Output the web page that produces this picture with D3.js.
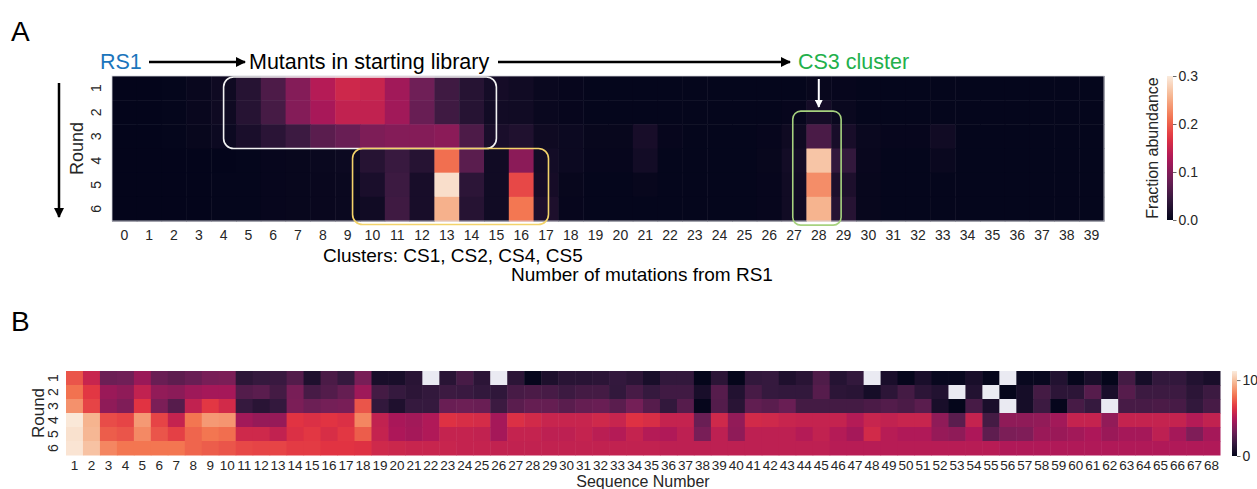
<!DOCTYPE html>
<html>
<head>
<meta charset="utf-8">
<script src="https://cdn.jsdelivr.net/npm/d3@7"></script>
<style>
  body { margin: 0; background: #fff; }
  text { font-family: "Liberation Sans", Arial, sans-serif; }
</style>
</head>
<body>
<div id="chart"></div>
<script>
// ---- panel A data: fraction abundance per round, columns = number of mutations 0..39
var mutationCounts = d3.range(0, 40);
var rounds = [1, 2, 3, 4, 5, 6];
var abundanceR1 = [0.001, 0.001, 0.002, 0.005, 0.01, 0.03, 0.06, 0.1, 0.135, 0.155, 0.15, 0.12, 0.085, 0.05, 0.03, 0.015, 0.012, 0.006, 0.003, 0.002,
  0.002, 0.002, 0.002, 0.002, 0.002, 0.002, 0.002, 0.002, 0.004, 0.003, 0.002, 0.002, 0.002, 0.002, 0.002, 0.002, 0.002, 0.002, 0.002, 0.002];
var abundanceR2 = [0.001, 0.001, 0.002, 0.005, 0.01, 0.03, 0.055, 0.1, 0.125, 0.145, 0.145, 0.12, 0.08, 0.05, 0.03, 0.013, 0.012, 0.006, 0.003, 0.002,
  0.002, 0.002, 0.002, 0.002, 0.002, 0.002, 0.002, 0.003, 0.015, 0.006, 0.002, 0.002, 0.002, 0.002, 0.002, 0.002, 0.002, 0.002, 0.002, 0.002];
var abundanceR3 = [0.001, 0.001, 0.002, 0.004, 0.008, 0.02, 0.033, 0.048, 0.07, 0.08, 0.095, 0.1, 0.1, 0.105, 0.06, 0.02, 0.025, 0.01, 0.008, 0.004,
  0.004, 0.018, 0.003, 0.002, 0.002, 0.002, 0.003, 0.01, 0.058, 0.018, 0.006, 0.003, 0.003, 0.012, 0.002, 0.002, 0.002, 0.002, 0.002, 0.002];
var abundanceR4 = [0.001, 0.001, 0.001, 0.001, 0.001, 0.002, 0.003, 0.004, 0.006, 0.008, 0.03, 0.045, 0.03, 0.21, 0.07, 0.012, 0.105, 0.014, 0.008, 0.003,
  0.003, 0.014, 0.002, 0.002, 0.002, 0.002, 0.004, 0.014, 0.27, 0.04, 0.005, 0.002, 0.002, 0.006, 0.002, 0.002, 0.002, 0.002, 0.002, 0.002];
var abundanceR5 = [0.001, 0.001, 0.001, 0.001, 0.002, 0.002, 0.003, 0.004, 0.005, 0.006, 0.02, 0.048, 0.018, 0.29, 0.035, 0.012, 0.185, 0.016, 0.004, 0.002,
  0.002, 0.004, 0.002, 0.002, 0.002, 0.002, 0.003, 0.012, 0.23, 0.022, 0.004, 0.002, 0.002, 0.002, 0.002, 0.002, 0.002, 0.002, 0.002, 0.002];
var abundanceR6 = [0.001, 0.001, 0.001, 0.001, 0.002, 0.002, 0.003, 0.004, 0.005, 0.006, 0.012, 0.05, 0.018, 0.255, 0.03, 0.012, 0.215, 0.022, 0.003, 0.002,
  0.002, 0.002, 0.002, 0.002, 0.002, 0.002, 0.003, 0.012, 0.257, 0.03, 0.004, 0.002, 0.002, 0.002, 0.002, 0.002, 0.002, 0.002, 0.002, 0.002];
var abundanceTicks = [0.0, 0.1, 0.2, 0.3];

// ---- panel B data: per-sequence values, null = missing
var sequenceNumbers = d3.range(1, 69);
var seqR1 = [7.2, 5.6, 3.1, 3.2, 4.3, 3.0, 2.7, 3.0, 3.4, 3.5, 1.35, 1.6, 1.7, 2.4, 0.9, 2.2, 1.6, 3.4,
  0.7, 0.7, 1.2, null, 1.2, 2.1, 1.3, null, 1.3, 0.1, 0.85, 1.2, 1.2, 1.3, 1.55, 1.3, 0.7,
  1.5, 1.5, 0.05, 1.3, 0.05, 1.5, 1.6, 0.9, 1.2, 2.3, 1.1, 1.5, null, 0.75, 0.1, 0.75, 0.2,
  0.2, 0.7, 0.1, null, 0.2, 0.2, 1.0, 0.1, 0.7, 0.05, 2.0, 0.6, 1.5, 1.5, 1.0, 0.7];
var seqR2 = [7.9, 6.5, 4.3, 4.0, 5.4, 4.1, 3.9, 4.4, 4.6, 4.6, 2.4, 2.6, 2.0, 3.4, 2.1, 2.4, 2.9, 4.4,
  2.0, 1.6, 1.3, 1.5, 1.8, 1.7, 1.5, 1.4, 2.1, 2.2, 2.1, 1.8, 2.0, 2.0, 1.5, 2.1, 1.6,
  1.9, 1.9, 0.7, 2.5, 1.0, 2.1, 1.6, 1.5, 1.5, 2.5, 1.3, 1.2, 0.6, 1.3, 2.0, 1.3, 1.0,
  null, 1.0, null, 0.05, 0.6, 2.0, 1.3, 1.3, 2.5, 0.75, 2.5, 1.8, 1.8, 1.8, 1.3, 1.8];
var seqR3 = [8.7, 6.8, 4.0, 3.6, 6.4, 3.5, 2.5, 5.4, 6.5, 5.9, 1.6, 1.2, 1.55, 3.5, 3.1, 3.3, 3.4, 7.2,
  1.5, 0.9, 1.6, 1.6, 3.0, 3.1, 3.0, 1.8, 2.6, 2.9, 2.9, 2.6, 2.9, 3.0, 2.6, 3.3, 2.5,
  1.5, 2.5, 0.1, 2.4, 1.2, 2.8, 2.6, 3.0, 2.0, 2.0, 2.0, 2.0, 2.2, 2.4, 2.2, 2.6, 0.7,
  0.05, 2.1, 0.75, null, 0.6, 1.8, 0.1, 2.1, 1.6, null, 2.1, 2.1, 2.2, 2.1, 1.5, 2.1];
var seqR4 = [11.1, 9.6, 7.0, 6.8, 8.9, 6.8, 5.5, 8.0, 8.9, 8.8, 4.5, 4.2, 4.2, 6.4, 6.2, 6.4, 6.2, 8.4,
  5.4, 4.7, 4.5, 4.9, 6.3, 6.1, 6.0, 4.6, 6.2, 5.9, 5.6, 5.6, 5.6, 5.8, 5.6, 6.3, 6.1,
  5.5, 5.5, 3.0, 5.8, 4.1, 5.9, 5.8, 5.6, 5.5, 5.5, 5.5, 5.0, 5.6, 5.4, 5.6, 5.6, 4.0,
  2.6, 5.5, 2.0, 4.0, 4.0, 4.1, 4.5, 5.5, 5.5, 4.1, 5.5, 5.5, 5.5, 5.5, 5.0, 5.4];
var seqR5 = [10.9, 9.7, 7.4, 7.2, 8.5, 7.2, 6.7, 7.6, 8.0, 7.8, 5.8, 5.8, 5.4, 6.2, 6.5, 6.1, 6.5, 7.4,
  5.5, 4.8, 4.6, 4.9, 5.5, 5.5, 5.4, 4.6, 5.5, 5.5, 5.3, 5.3, 5.5, 5.2, 5.0, 5.5, 5.0,
  4.9, 5.3, 3.4, 5.3, 4.0, 5.3, 5.3, 5.3, 5.0, 5.4, 5.0, 4.6, 5.9, 5.1, 4.9, 4.9, 4.2,
  4.0, 4.8, 2.7, 3.5, 3.6, 4.3, 4.3, 4.5, 4.8, 4.3, 4.6, 4.6, 5.3, 4.6, 3.6, 4.6];
var seqR6 = [11.0, 10.0, 8.4, 8.0, 8.0, 8.0, 8.0, 7.6, 7.4, 7.2, 6.9, 6.8, 6.8, 6.6, 6.6, 6.4, 6.4, 6.3,
  5.8, 5.7, 5.6, 5.6, 5.6, 5.5, 5.5, 5.4, 5.4, 5.4, 5.4, 5.4, 5.4, 5.4, 5.4, 5.4, 5.4,
  5.3, 5.3, 5.3, 5.3, 5.3, 5.3, 5.3, 5.3, 5.3, 5.3, 5.1, 5.1, 5.1, 5.1, 5.1, 5.1, 5.1,
  5.1, 5.1, 5.1, 4.9, 4.9, 4.9, 4.9, 4.9, 4.9, 4.9, 4.9, 4.9, 4.9, 4.9, 4.9, 4.9];
var sequenceTicks = [0, 10];
var sequenceMax = 11.2;

// seaborn "rocket" colormap anchors
var rocketStops = ["#03051a", "#35193e", "#701f57", "#ad1759", "#e13342", "#f37651", "#f6b48f", "#faebdd"];

var width = 1257, height = 489;
var nanColor = "#eaeaf2";
var textColor = "#262626";

function rocket(t) {
    var scale = d3.scaleLinear()
        .domain(d3.range(rocketStops.length).map(function (i) { return i / (rocketStops.length - 1); }))
        .range(rocketStops)
        .interpolate(d3.interpolateRgb)
        .clamp(true);
    return scale(t);
}

function toCells(rowArrays, columns) {
    var cells = [];
    rowArrays.forEach(function (row, r) {
        row.forEach(function (v, c) {
            cells.push({ round: rounds[r], col: columns[c], value: v });
        });
    });
    return cells;
}

function addArrowMarker(defs, id, color) {
    defs.append("marker")
        .attr("id", id)
        .attr("viewBox", "0 0 10 10")
        .attr("refX", 9).attr("refY", 5)
        .attr("markerWidth", 4).attr("markerHeight", 4)
        .attr("markerUnits", "strokeWidth")
        .attr("orient", "auto")
        .append("path")
        .attr("d", "M0,0 L10,5 L0,10 z")
        .attr("fill", color);
}

function drawHeatmap(svg, cfg) {
    var x = d3.scaleBand().domain(cfg.columns).range([cfg.x0, cfg.x1]);
    var y = d3.scaleBand().domain(rounds).range([cfg.y0, cfg.y1]);
    var color = d3.scaleLinear().domain([0, cfg.vmax]).range([0, 1]).clamp(true);

    svg.append("g").selectAll("rect")
        .data(cfg.cells)
        .enter().append("rect")
        .attr("x", function (d) { return x(d.col); })
        .attr("y", function (d) { return y(d.round); })
        .attr("width", x.bandwidth() + 0.5)
        .attr("height", y.bandwidth() + 0.5)
        .attr("fill", function (d) {
            return d.value == null ? nanColor : rocket(color(d.value));
        });

    // x tick labels
    var xAxis = svg.append("g")
        .attr("transform", "translate(0," + cfg.y1 + ")")
        .call(d3.axisBottom(x).tickSize(0).tickPadding(cfg.xPad));
    xAxis.select(".domain").remove();
    xAxis.selectAll("text")
        .attr("fill", textColor)
        .style("font-size", cfg.xFont + "px")
        .style("font-family", "Liberation Sans, Arial, sans-serif");

    // rotated round labels
    svg.append("g").selectAll("text")
        .data(rounds)
        .enter().append("text")
        .attr("transform", function (d) {
            return "translate(" + cfg.yLabelX + "," + (y(d) + y.bandwidth() / 2) + ") rotate(-90)";
        })
        .attr("text-anchor", "middle")
        .attr("dominant-baseline", "central")
        .attr("fill", textColor)
        .style("font-size", cfg.yFont + "px")
        .text(function (d) { return d; });

    svg.append("text")
        .attr("transform", "translate(" + cfg.roundTitleX + "," + ((cfg.y0 + cfg.y1) / 2) + ") rotate(-90)")
        .attr("text-anchor", "middle")
        .attr("dominant-baseline", "central")
        .attr("fill", textColor)
        .style("font-size", cfg.titleFont + "px")
        .text("Round");

    return { x: x, y: y };
}

function drawColorbar(svg, cfg) {
    var defs = svg.select("defs");
    var gradId = cfg.id;
    var grad = defs.append("linearGradient")
        .attr("id", gradId)
        .attr("x1", 0).attr("y1", 1).attr("x2", 0).attr("y2", 0);
    d3.range(0, 1.0001, 0.05).forEach(function (t) {
        grad.append("stop").attr("offset", t).attr("stop-color", rocket(t));
    });
    svg.append("rect")
        .attr("x", cfg.x).attr("y", cfg.y0)
        .attr("width", cfg.w).attr("height", cfg.y1 - cfg.y0)
        .attr("fill", "url(#" + gradId + ")");

    var scale = d3.scaleLinear().domain([0, cfg.vmax]).range([cfg.y1, cfg.y0]);
    var axis = svg.append("g")
        .attr("transform", "translate(" + (cfg.x + cfg.w) + ",0)")
        .call(d3.axisRight(scale).tickValues(cfg.ticks).tickFormat(cfg.format).tickSize(3.5).tickPadding(2));
    axis.select(".domain").remove();
    axis.selectAll("line").attr("stroke", "#444").attr("stroke-width", 0.8);
    axis.selectAll("text")
        .attr("fill", textColor)
        .style("font-size", cfg.font + "px")
        .style("font-family", "Liberation Sans, Arial, sans-serif");
}

var svg = d3.select("#chart").append("svg")
    .attr("width", width)
    .attr("height", height);
var defs = svg.append("defs");
addArrowMarker(defs, "arrowBlack", "#000");
addArrowMarker(defs, "arrowWhite", "#fff");

// ---------------- Panel A ----------------
var topA = drawHeatmap(svg, {
    cells: toCells([abundanceR1, abundanceR2, abundanceR3, abundanceR4, abundanceR5, abundanceR6], mutationCounts),
    columns: mutationCounts,
    x0: 112, x1: 1104, y0: 76, y1: 221,
    vmax: 0.3,
    xPad: 9, xFont: 14,
    yLabelX: 96, yFont: 14,
    roundTitleX: 77, titleFont: 18
});

svg.append("rect")
    .attr("x", 112).attr("y", 76).attr("width", 992).attr("height", 145)
    .attr("fill", "none").attr("stroke", "#d4d4dc").attr("stroke-width", 0.8);

drawColorbar(svg, {
    id: "gradA", x: 1167, w: 6, y0: 76, y1: 220,
    vmax: 0.3, ticks: abundanceTicks, format: d3.format(".1f"), font: 14
});
svg.append("text")
    .attr("transform", "translate(1152,148) rotate(-90)")
    .attr("text-anchor", "middle")
    .attr("dominant-baseline", "central")
    .attr("fill", textColor)
    .style("font-size", "16px")
    .text("Fraction abundance");

// cluster boxes
var bx = topA.x, by = topA.y, bw = bx.bandwidth();
svg.append("rect")
    .attr("x", bx(4) + bw / 2).attr("y", by(1) + 1)
    .attr("width", bx(15) - bx(4)).attr("height", by(3) + by.bandwidth() - by(1) - 1)
    .attr("rx", 10).attr("fill", "none")
    .attr("stroke", "#f2f2f2").attr("stroke-width", 1.6);
svg.append("rect")
    .attr("x", bx(9) + bw * 0.7).attr("y", by(4))
    .attr("width", bx(17) + bw * 0.6 - bx(9) - bw * 0.7).attr("height", 76)
    .attr("rx", 10).attr("fill", "none")
    .attr("stroke", "#f3d36a").attr("stroke-width", 1.6);
svg.append("rect")
    .attr("x", bx(27) + bw * 0.45).attr("y", by(2) + 11)
    .attr("width", bx(29) + bw * 0.4 - bx(27) - bw * 0.45).attr("height", 114)
    .attr("rx", 8).attr("fill", "none")
    .attr("stroke", "#a7d27f").attr("stroke-width", 1.6);

// white arrow into CS3 cluster
svg.append("line")
    .attr("x1", bx(28) + bw / 2).attr("x2", bx(28) + bw / 2)
    .attr("y1", 79).attr("y2", 107)
    .attr("stroke", "#fff").attr("stroke-width", 2)
    .attr("marker-end", "url(#arrowWhite)");

// headline annotations
svg.append("text").attr("x", 11).attr("y", 41)
    .style("font-size", "28px").attr("fill", "#000").text("A");
svg.append("text").attr("x", 100).attr("y", 69)
    .style("font-size", "21.5px").attr("fill", "#1b75bc").text("RS1");
svg.append("line")
    .attr("x1", 149).attr("x2", 245).attr("y1", 62).attr("y2", 62)
    .attr("stroke", "#000").attr("stroke-width", 2.5)
    .attr("marker-end", "url(#arrowBlack)");
svg.append("text").attr("x", 249).attr("y", 69)
    .style("font-size", "21.5px").attr("fill", "#000").text("Mutants in starting library");
svg.append("line")
    .attr("x1", 498).attr("x2", 790).attr("y1", 62).attr("y2", 62)
    .attr("stroke", "#000").attr("stroke-width", 2.5)
    .attr("marker-end", "url(#arrowBlack)");
svg.append("text").attr("x", 798).attr("y", 69)
    .style("font-size", "21.5px").attr("fill", "#22b04b").text("CS3 cluster");

// round direction arrow
svg.append("line")
    .attr("x1", 59).attr("x2", 59).attr("y1", 83).attr("y2", 217)
    .attr("stroke", "#000").attr("stroke-width", 2.5)
    .attr("marker-end", "url(#arrowBlack)");

svg.append("text").attr("x", 323).attr("y", 262)
    .style("font-size", "19px").attr("fill", "#000").text("Clusters: CS1, CS2, CS4, CS5");
svg.append("text").attr("x", 642).attr("y", 281)
    .attr("text-anchor", "middle")
    .style("font-size", "19px").attr("fill", "#000").text("Number of mutations from RS1");

// ---------------- Panel B ----------------
svg.append("text").attr("x", 11).attr("y", 331)
    .style("font-size", "28px").attr("fill", "#000").text("B");

drawHeatmap(svg, {
    cells: toCells([seqR1, seqR2, seqR3, seqR4, seqR5, seqR6], sequenceNumbers),
    columns: sequenceNumbers,
    x0: 66, x1: 1220, y0: 371, y1: 455,
    vmax: sequenceMax,
    xPad: 5, xFont: 13.5,
    yLabelX: 53, yFont: 14,
    roundTitleX: 38, titleFont: 17
});

drawColorbar(svg, {
    id: "gradB", x: 1232, w: 5, y0: 371, y1: 456,
    vmax: sequenceMax, ticks: sequenceTicks, format: d3.format("d"), font: 14
});

svg.append("text").attr("x", 643).attr("y", 487)
    .attr("text-anchor", "middle")
    .style("font-size", "16px").attr("fill", textColor).text("Sequence Number");
</script>
</body>
</html>
